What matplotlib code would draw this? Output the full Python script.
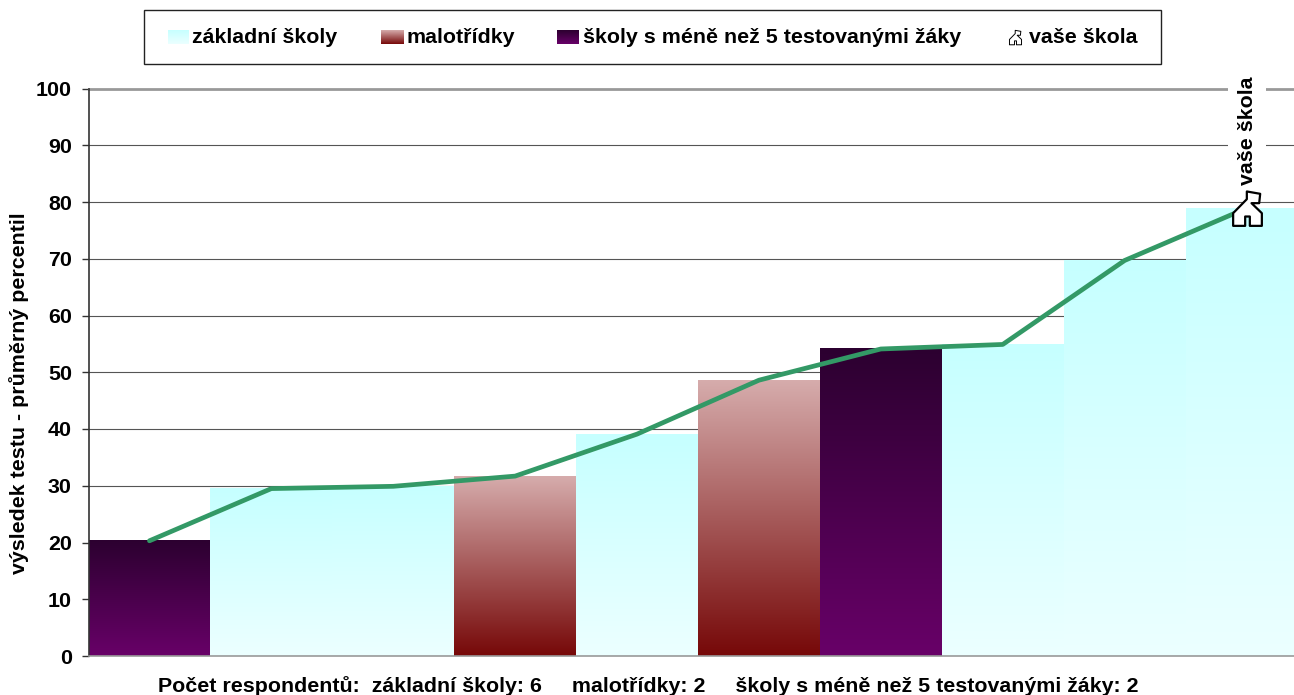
import numpy as np
import matplotlib
matplotlib.use('Agg')
import matplotlib.pyplot as plt
from matplotlib.colors import LinearSegmentedColormap
from matplotlib.patches import Rectangle
from matplotlib.path import Path

plt.rcParams['font.family'] = ['Liberation Sans', 'DejaVu Sans']
plt.rcParams['font.weight'] = 'bold'

values = [20.3, 29.5, 29.9, 31.7, 39.1, 48.6, 54.1, 54.9, 69.7, 78.9]
groups = ['few', 'zs', 'zs', 'mala', 'zs', 'mala', 'few', 'zs', 'zs', 'zs']
yticks = list(range(0, 101, 10))
group_names = ['základní školy', 'malotřídky', 'školy s méně než 5 testovanými žáky']
counts = [6, 2, 2]
school_label = 'vaše škola'

W, H = 1294, 695
FS = 15.4
cmaps = {
    'zs': LinearSegmentedColormap.from_list('zs', ['#ECFFFF', '#C6FFFF']),
    'mala': LinearSegmentedColormap.from_list('mala', ['#760808', '#D6ACAC']),
    'few': LinearSegmentedColormap.from_list('few', ['#680068', '#2C0030']),
}
grad = np.linspace(0, 1, 256).reshape(-1, 1)

# little house marker with a chimney, y goes up
house = Path([(-43, -52), (-7, -52), (-7, -24), (7, -24), (7, -52), (43, -52), (43, -14), (12, 16),
              (35, 16), (38, 44), (-2, 51), (-2, 28), (-43, -14), (-43, -52)], closed=True)

fig = plt.figure(figsize=(W / 100, H / 100), dpi=100)
ax = fig.add_axes([88.5 / W, 1 - 656 / H, 1 - 88.5 / W, (656 - 88.5) / H])

x = np.arange(len(values))
for xi, v, g in zip(x, values, groups):
    ax.imshow(grad, cmap=cmaps[g], extent=[xi - 0.5, xi + 0.5, 0, v], origin='lower',
              aspect='auto', zorder=2)

ax.plot(x, values, color='#339966', lw=3.4, zorder=3, solid_capstyle='round')
ax.plot(x[-1], values[-1], marker=house, ms=25, mfc='white', mec='black', mew=1.6, zorder=6, clip_on=False)
ax.annotate(school_label, (x[-1], values[-1]), xytext=(0.5, 17), textcoords='offset points',
            rotation=90, ha='center', va='bottom', fontsize=FS, zorder=5,
            bbox=dict(fc='white', ec='none', pad=7))

ax.set_xlim(-0.5, -0.5 + (W - 88.5) / 121.9)
ax.set_ylim(0, 100)
ax.set_xticks([])
ax.set_yticks(yticks)
ax.tick_params(axis='y', length=5, width=1, color='#333333', labelsize=FS, pad=7)
for s in ['top', 'right']:
    ax.spines[s].set_visible(False)
ax.spines['left'].set_color('#333333')
ax.spines['left'].set_linewidth(1.2)
ax.spines['bottom'].set_color('#999999')
ax.spines['bottom'].set_linewidth(1.2)
ax.set_axisbelow(True)
ax.yaxis.grid(True, color='#555555', lw=0.8, zorder=1)
ax.axhline(100, color='#999999', lw=2, zorder=1, clip_on=False)

fig.text(19.5 / W, 1 - 393 / H, 'výsledek testu - průměrný percentil', rotation=90,
         ha='center', va='center', fontsize=FS)
bottom = 'Počet respondentů:  ' + '     '.join(f'{n}: {c}' for n, c in zip(group_names, counts))
fig.text(648 / W, 1 - 686 / H, bottom, ha='center', va='center', fontsize=FS)

# legend drawn in pixel coordinates
lg = fig.add_axes([0, 0, 1, 1], facecolor='none')
lg.add_patch(Rectangle((143.5, 9.5), 1017, 54, fc='white', ec='#222222', lw=1, zorder=1))
for name, g, x0, x1, tx in zip(group_names, ['zs', 'mala', 'few'], [168, 381, 557], [189, 404, 579], [192, 407, 583]):
    lg.imshow(grad, cmap=cmaps[g], extent=[x0, x1, 44, 30], origin='lower', aspect='auto', zorder=2)
    lg.text(tx, 37.5, name, va='center', ha='left', fontsize=FS, zorder=3)
lg.plot(1015, 37, marker=house, ms=10.5, mfc='white', mec='black', mew=0.7, zorder=3)
lg.text(1029, 37.5, school_label, va='center', ha='left', fontsize=FS, zorder=3)
lg.set_xlim(0, W)
lg.set_ylim(H, 0)
lg.axis('off')

fig.savefig('out.png', dpi=100)
